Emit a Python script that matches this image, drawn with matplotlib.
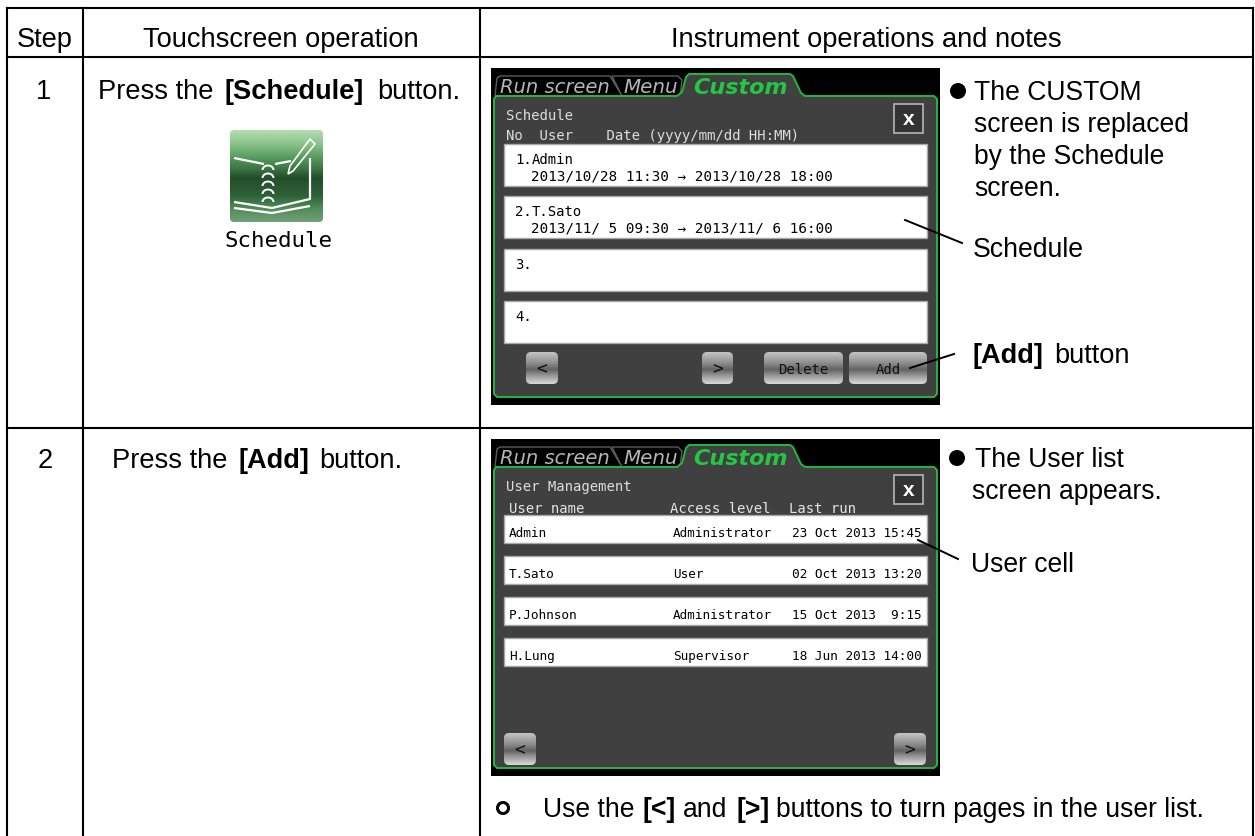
import matplotlib
matplotlib.use("Agg")
import matplotlib.pyplot as plt
import numpy as np
from matplotlib.patches import Arc, Circle, FancyBboxPatch, Polygon, Rectangle

SANS = "Liberation Sans"
MONO = "DejaVu Sans Mono"

HEADERS = ["Step", "Touchscreen operation", "Instrument operations and notes"]
STEPS = ["1", "2"]
SCHEDULE_ROWS = [
    ("1.", "Admin", "2013/10/28 11:30 \u2192 2013/10/28 18:00"),
    ("2.", "T.Sato", "2013/11/ 5 09:30 \u2192 2013/11/ 6 16:00"),
    ("3.", "", ""),
    ("4.", "", ""),
]
USER_NAMES = ["Admin", "T.Sato", "P.Johnson", "H.Lung"]
USER_LEVELS = ["Administrator", "User", "Administrator", "Supervisor"]
USER_LAST_RUN = ["23 Oct 2013 15:45", "02 Oct 2013 13:20", "15 Oct 2013  9:15", "18 Jun 2013 14:00"]
NOTES_1 = ["The CUSTOM", "screen is replaced", "by the Schedule", "screen."]
NOTES_2 = ["The User list", "screen appears."]

fig = plt.figure(figsize=(12.55, 8.37), dpi=100)
ax = fig.add_axes([0, 0, 1, 1])
ax.set_axis_off()


def label(x, y, s, size=19.6, bold=False, family=SANS, color="black", ha="left", **kw):
    return ax.text(x, y, s, fontsize=size, fontweight="bold" if bold else "normal",
                   family=family, color=color, ha=ha, va="baseline", **kw)


def gradient(x0, y0, x1, y1, stops, radius=4):
    # vertical gradient clipped to a rounded box
    pos = np.linspace(0, 1, 64)
    levels = np.array([s[0] for s in stops])
    rgb = np.array([matplotlib.colors.to_rgb(s[1]) for s in stops])
    img = np.stack([np.interp(pos, levels, rgb[:, i]) for i in range(3)], axis=1)[:, None, :]
    im = ax.imshow(img, extent=(x0, x1, y1, y0), aspect="auto", zorder=3, interpolation="bilinear")
    box = FancyBboxPatch((x0 + radius, y0 + radius), x1 - x0 - 2 * radius, y1 - y0 - 2 * radius,
                         boxstyle=f"round,pad={radius},rounding_size={radius}",
                         fc="none", ec="none", zorder=3)
    ax.add_patch(box)
    im.set_clip_path(box)


BUTTON = [(0, "#c4c4c4"), (0.35, "#8c8c8c"), (0.55, "#626262"), (0.75, "#9a9a9a"), (1, "#d8d8d8")]


def button(x0, y0, x1, y1, s, size=10):
    gradient(x0, y0, x1, y1, BUTTON, radius=5)
    label((x0 + x1) / 2, (y0 + y1) / 2 + 5, s, size=size, family=MONO, ha="center", color="#111111", zorder=4)


def screen(top):
    # black backdrop, tabs, green panel outline; top is the backdrop's upper edge
    ax.add_patch(Rectangle((491, top), 449, 337, fc="black", ec="none", zorder=1))
    ax.add_patch(Polygon([(495, top + 28), (497, top + 10), (500, top + 8), (610, top + 8), (622, top + 28),
                          (612, top + 8), (678, top + 8), (682, top + 12), (680, top + 28)],
                         closed=False, fc="none", ec="#5a5a5a", lw=1, zorder=2))
    outline = [(494, top + 31), (496, top + 28), (677, top + 28), (682, top + 24), (686, top + 9), (689, top + 6),
               (790, top + 6), (793, top + 8), (801, top + 25), (805, top + 28), (934, top + 28), (937, top + 31),
               (937, top + 326), (934, top + 329), (497, top + 329), (494, top + 326)]
    ax.add_patch(Polygon(outline, closed=True, fc="#404040", ec="#22b83f", lw=1.4, joinstyle="round", zorder=2))
    label(500, top + 23.5, "Run screen", size=14, family="DejaVu Sans", color="#b5b5b5", style="italic", zorder=3)
    label(623, top + 23.5, "Menu", size=14.3, family="DejaVu Sans", color="#b5b5b5", style="italic", zorder=3)
    label(693, top + 25, "Custom", size=16, bold=True, family="DejaVu Sans", color="#22c743", style="italic", zorder=3)
    ax.add_patch(Rectangle((894, top + 36), 29, 29, fc="#333333", ec="#b5b5b5", lw=1.2, zorder=3))
    label(908.5, top + 56, "x", size=15, bold=True, color="white", ha="center", zorder=4)


def cell(y0, y1):
    ax.add_patch(Rectangle((504, y0), 423, y1 - y0, fc="white", ec="#a8a8a8", lw=1, zorder=3))


# table grid
for x in [7, 83, 480, 1253]:
    ax.plot([x, x], [9, 837], color="black", lw=1.5, solid_capstyle="projecting", zorder=5)
for y in [9, 58, 428.5]:
    ax.plot([7, 1253], [y, y], color="black", lw=1.5, solid_capstyle="projecting", zorder=5)

label(45, 47, HEADERS[0], ha="center")
label(281, 47, HEADERS[1], ha="center")
label(866, 47, HEADERS[2], ha="center")
label(44, 99, STEPS[0], ha="center")
label(45, 468, STEPS[1], ha="center")

label(98, 99, "Press the")
label(225, 99, "[Schedule]", bold=True)
label(377, 99, "button.")
label(112, 468, "Press the")
label(239, 468, "[Add]", bold=True)
label(319, 468, "button.")

# Schedule icon
gradient(230, 131, 323, 223, [(0, "#b4dcb0"), (0.14, "#8cc48c"), (0.30, "#569a5c"), (0.42, "#3c7444"),
                              (0.52, "#234d2a"), (0.72, "#2f6238"), (0.85, "#4e8a58"), (1, "#70a078")], radius=4)
for pts in [[(234, 159), (264, 165)], [(275, 165), (291, 162)], [(310, 159), (310, 200), (272, 209)],
            [(234, 203), (272, 209)], [(234, 209), (272, 214), (310, 207)]]:
    xs, ys = zip(*pts)
    ax.plot(xs, ys, color="white", lw=1.6, zorder=4, solid_capstyle="butt")
for y in [171, 179, 187, 195, 203]:
    ax.add_patch(Arc((268, y), 11, 9, theta1=180, theta2=360, ec="white", lw=1.4, zorder=4))
ax.add_patch(Polygon([(310, 140), (315, 145), (293, 172), (288, 175), (290, 167)], closed=True,
                     fc="none", ec="white", lw=1.2, zorder=4))
label(278, 247, "Schedule", size=16.2, family=MONO, ha="center", zorder=4)

# first screen
screen(69)
label(506, 120, "Schedule", size=10, family=MONO, color="#dddddd", zorder=4)
label(506, 140, "No  User    Date (yyyy/mm/dd HH:MM)", size=10.1, family=MONO, color="#dddddd", zorder=4)
for i, (no, who, when) in enumerate(SCHEDULE_ROWS):
    y0 = 145 + 52.3 * i
    cell(y0, y0 + 42)
    label(515, y0 + 19, no, size=10, family=MONO, zorder=4)
    label(532, y0 + 19, who, size=10, family=MONO, zorder=4)
    label(531, y0 + 35, when, size=10.3, family=MONO, zorder=4)
button(526, 353, 558, 385, "<", size=13)
button(702, 353, 733, 385, ">", size=13)
button(764, 353, 843, 385, "Delete")
button(849, 353, 927, 385, "Add")

# second screen
screen(440)
label(506, 491, "User Management", size=10, family=MONO, color="#dddddd", zorder=4)
label(509, 513, "User name", size=10, family=MONO, color="#e4e4e4", zorder=4)
label(670, 513, "Access level", size=10, family=MONO, color="#e4e4e4", zorder=4)
label(789, 513, "Last run", size=10, family=MONO, color="#e4e4e4", zorder=4)
for i in range(len(USER_NAMES)):
    y0 = 516 + 41 * i
    cell(y0, y0 + 28)
    label(509, y0 + 21, USER_NAMES[i], size=9.2, family=MONO, zorder=4)
    label(673, y0 + 21, USER_LEVELS[i], size=9.1, family=MONO, zorder=4)
    label(792, y0 + 21, USER_LAST_RUN[i], size=9.2, family=MONO, zorder=4)
button(504, 734, 536, 766, "<", size=13)
button(894, 734, 926, 766, ">", size=13)

# notes beside the screens
ax.add_patch(Circle((958, 92), 8, fc="black", ec="none"))
for y, line in zip([100, 132, 164, 196], NOTES_1):
    label(974, y, line, size=19.1)
label(973, 257, "Schedule", size=19.2)
label(973, 363, "[Add]", bold=True)
label(1054, 363, "button")
ax.plot([905, 962], [221, 244], color="black", lw=1.4, zorder=6)
ax.plot([910, 954], [369, 355], color="black", lw=1.4, zorder=6)

ax.add_patch(Circle((957, 459), 8, fc="black", ec="none"))
label(975, 467, NOTES_2[0], size=19.1)
appears = label(972, 499, NOTES_2[1], size=19.1)
# the source cuts the descenders off this line
appears.set_clip_path(Rectangle((960, 480), 280, 21, transform=ax.transData))
label(971, 572, "User cell", size=19.1)
ax.plot([918, 958], [541, 560], color="black", lw=1.4, zorder=6)

# bottom note
ax.add_patch(Circle((503, 809), 5.5, fc="none", ec="black", lw=2.2))
label(543, 817, "Use the", size=19.1)
label(643, 817, "[<]", size=19.1, bold=True)
label(683, 817, "and", size=19.1)
label(736, 817, "[>]", size=19.1, bold=True)
label(776, 817, "buttons to turn pages in the user list.", size=19.1)

ax.set_xlim(0, 1255)
ax.set_ylim(837, 0)
fig.savefig("out.png", dpi=100, facecolor="white")
